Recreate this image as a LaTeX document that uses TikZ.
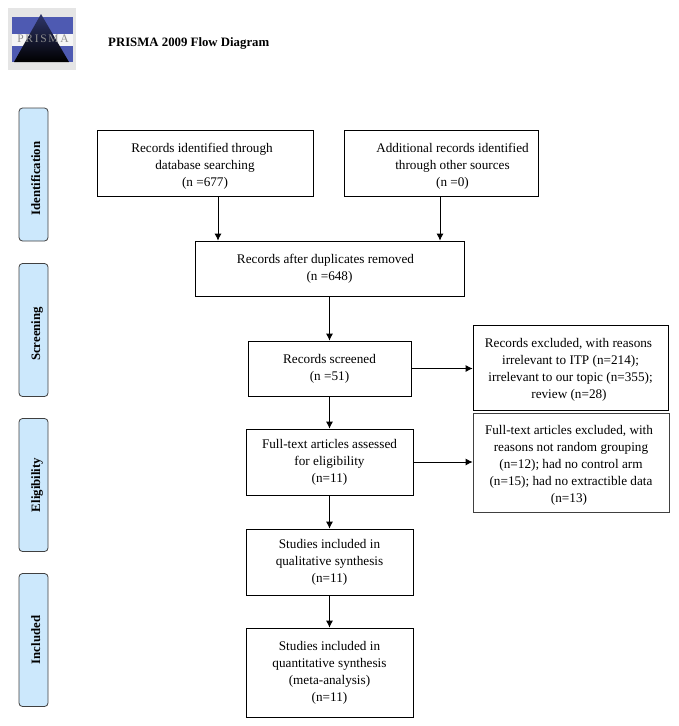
\documentclass[tikz,border=0pt]{standalone}
\usepackage{fontspec}
\setmainfont{Liberation Serif}
\usetikzlibrary{arrows.meta}
\definecolor{phaseblue}{RGB}{204,232,252}
\definecolor{logoblue}{RGB}{78,90,178}
\newcommand{\lowered}[1]{\rule{0pt}{#1}}
\tikzset{
	flowbox/.style={draw,line width=0.8pt,align=center,inner sep=0pt,font=\fontsize{13.2}{17}\selectfont},
	phasebox/.style={draw=black!75,fill=phaseblue,line width=0.8pt,rounded corners=3.5pt,minimum width=133pt,minimum height=29pt,inner sep=0pt,rotate=90,text height=13pt,text depth=0pt,font=\fontsize{12.8}{14}\selectfont\bfseries},
	flowline/.style={line width=0.8pt,-{Latex[length=7pt,width=7pt]}}
}
\begin{document}
\begin{tikzpicture}[x=1pt,y=-1pt]
	\useasboundingbox (0,0) rectangle (678,726);
	% logo
	\fill[black!10] (8,8) rectangle (76,70);
	\fill[logoblue] (12,17) rectangle (73,34);
	\fill[logoblue] (12,46) rectangle (73,62);
	\fill[black!4] (12,34) rectangle (73,46);
	\shade[top color=logoblue!60!black,bottom color=black] (41,14) -- (69,62) -- (14,62) -- cycle;
	\node[text=black!45,inner sep=0pt,font=\fontsize{11.5}{12}\selectfont\addfontfeatures{LetterSpace=15}] (logotext) at (43,39) {PRISMA};
	% title
	\node[anchor=west,inner sep=0pt,font=\fontsize{12.8}{14}\selectfont\bfseries] (title) at (108,43) {PRISMA 2009 Flow Diagram};
	% phases
	\node[phasebox] (identification) at (33.5,174.5) {Identification\hspace*{8pt}};
	\node[phasebox] (screening) at (33.5,330) {Screening\hspace*{8pt}};
	\node[phasebox] (eligibility) at (33.5,485) {Eligibility};
	\node[phasebox] (included) at (33.5,640) {Included};
	% boxes
	\node[flowbox,minimum width=216pt,minimum height=66pt] (database) at (205,163) {\lowered{15pt}Records identified through\hspace*{6pt}\\database searching\hspace*{6pt}\\(n =677)};
	\node[flowbox,minimum width=194pt,minimum height=66pt] (other) at (441,163) {\lowered{15pt}\hspace*{23pt}Additional records identified\\\hspace*{23pt}through other sources\\\hspace*{23pt}(n =0)};
	\node[flowbox,minimum width=269pt,minimum height=55pt] (duplicates) at (329.5,268.5) {Records after duplicates removed\hspace*{8pt}\\(n =648)};
	\node[flowbox,minimum width=163pt,minimum height=55pt] (screened) at (329.5,368.5) {Records screened\\(n =51)};
	\node[flowbox,minimum width=167pt,minimum height=66pt] (assessed) at (329.5,462) {Full-text articles assessed\\for eligibility\\(n=11)};
	\node[flowbox,minimum width=167pt,minimum height=66pt] (qualitative) at (329.5,562) {Studies included in\\qualitative synthesis\\(n=11)};
	\node[flowbox,minimum width=167pt,minimum height=89pt] (quantitative) at (329.5,672.5) {Studies included in\\quantitative synthesis\\(meta-analysis)\\(n=11)};
	\node[flowbox,minimum width=195pt,minimum height=85pt] (excluded) at (570.5,367.5) {\lowered{13pt}Records excluded, with reasons\hspace*{4pt}\\irrelevant to ITP (n=214);\\irrelevant to our topic (n=355);\hspace*{3pt}\\review (n=28)\hspace*{3pt}};
	\node[flowbox,draw=black!75,minimum width=196pt,minimum height=99pt] (fulltext) at (571,462.5) {\lowered{15pt}Full-text articles excluded, with\hspace*{4pt}\\reasons not random grouping\hspace*{4pt}\\(n=12); had no control arm\\(n=15); had no extractible data\hspace*{4pt}\\(n=13)\hspace*{4pt}};
	% arrows
	\coordinate (left) at (218,0);
	\coordinate (right) at (440,0);
	\draw[flowline] (database.south -| left) -- (duplicates.north -| left);
	\draw[flowline] (other.south -| right) -- (duplicates.north -| right);
	\draw[flowline] (duplicates) -- (screened);
	\draw[flowline] (screened) -- (assessed);
	\draw[flowline] (assessed) -- (qualitative);
	\draw[flowline] (qualitative) -- (quantitative);
	\draw[flowline] (screened.east) -- (screened.east -| excluded.west);
	\draw[flowline] (assessed.east) -- (assessed.east -| fulltext.west);
\end{tikzpicture}
\end{document}
